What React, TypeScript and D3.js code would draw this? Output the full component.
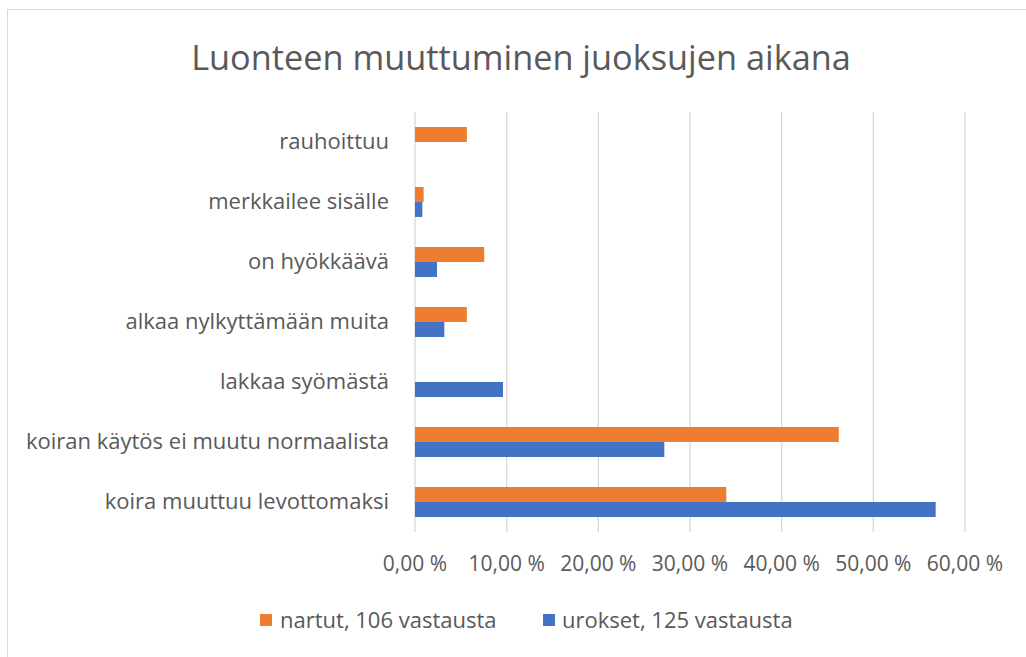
import React from "react";
import * as d3 from "d3";

const categories = [
  "rauhoittuu",
  "merkkailee sisälle",
  "on hyökkäävä",
  "alkaa nylkyttämään muita",
  "lakkaa syömästä",
  "koiran käytös ei muutu normaalista",
  "koira muuttuu levottomaksi",
];
const nartut = [5.66, 0.94, 7.55, 5.66, 0, 46.23, 33.96];
const urokset = [0, 0.8, 2.4, 3.2, 9.6, 27.2, 56.8];
const seriesNames = ["nartut, 106 vastausta", "urokset, 125 vastausta"];
const xTicks = [0, 10, 20, 30, 40, 50, 60];
const title = "Luonteen muuttuminen juoksujen aikana";

const W = 1026;
const H = 657;
const FONT = "'Open Sans', Lato, sans-serif";
const TEXT = "#595959";
const ORANGE = "#ED7D31";
const BLUE = "#4472C4";
const GRID = "#D9D9D9";

export default function App() {
  const x = d3.scaleLinear().domain([0, 60]).range([415, 965]);
  const y = d3.scaleBand().domain(categories).range([112, 532]).paddingInner(0.5).paddingOuter(0.25);
  const bh = y.bandwidth() / 2;
  const fmt = (v: number) => d3.format(".2f")(v).replace(".", ",") + " %";
  return (
    <svg width={W} height={H} style={{ position: "absolute", left: 0, top: 0 }}>
      <rect x={0} y={0} width={W} height={H} fill="#fff" />
      <rect x={7.5} y={9.5} width={W + 10} height={H + 10} fill="#fff" stroke={GRID} strokeWidth={1} />
      <text x={521} y={70} textAnchor="middle" fontFamily={FONT} fontSize={34.3} fill={TEXT}>{title}</text>
      {xTicks.map((t) => (
        <line key={t} x1={x(t)} x2={x(t)} y1={112} y2={532} stroke={GRID} strokeWidth={1.3} />
      ))}
      {categories.map((c, i) => (
        <g key={c}>
          <rect x={x(0)} y={y(c)!} width={x(nartut[i]) - x(0)} height={bh} fill={ORANGE} />
          <rect x={x(0)} y={y(c)! + bh} width={x(urokset[i]) - x(0)} height={bh} fill={BLUE} />
          <text x={389} y={y(c)! + bh + 7} textAnchor="end" fontFamily={FONT} fontSize={22} fill={TEXT}>{c}</text>
        </g>
      ))}
      {xTicks.map((t) => (
        <text key={t} x={x(t)} y={571} textAnchor="middle" fontFamily={FONT} fontSize={21} fill={TEXT}>{fmt(t)}</text>
      ))}
      <g>
        <rect x={260} y={614} width={12} height={12} fill={ORANGE} />
        <text x={280} y={628} fontFamily={FONT} fontSize={22} fill={TEXT}>{seriesNames[0]}</text>
        <rect x={543} y={614} width={12} height={12} fill={BLUE} />
        <text x={562} y={628} fontFamily={FONT} fontSize={22} fill={TEXT}>{seriesNames[1]}</text>
      </g>
    </svg>
  );
}
